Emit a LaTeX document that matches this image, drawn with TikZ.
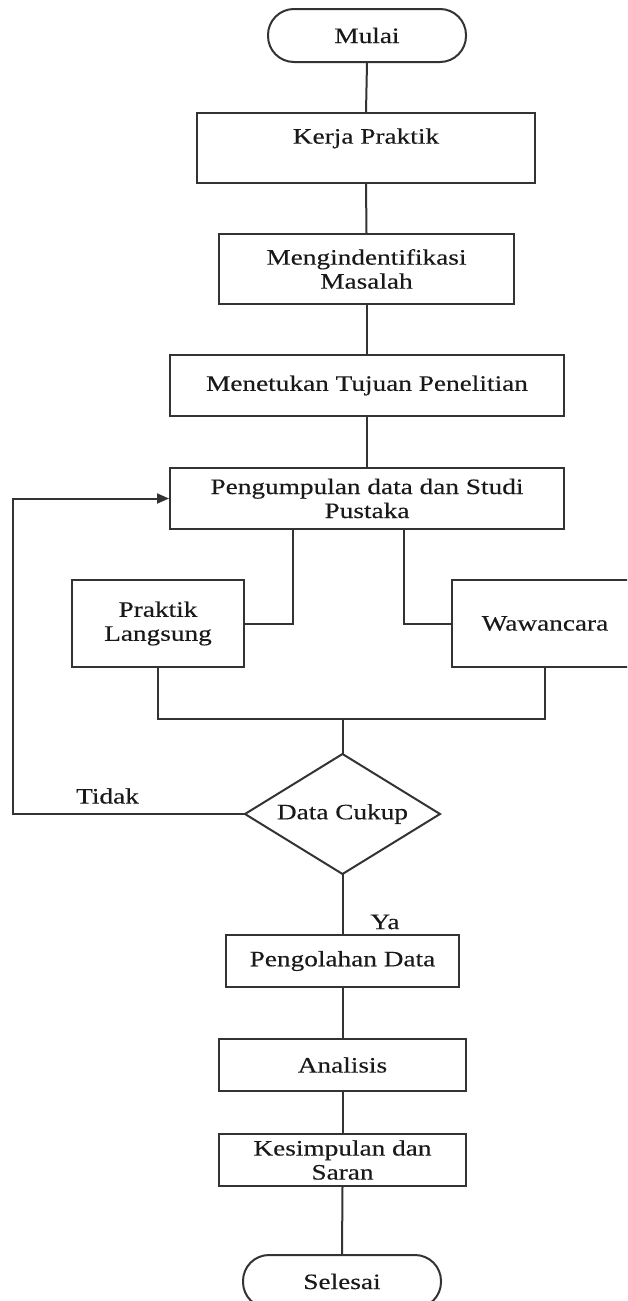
\documentclass[tikz,border=0pt]{standalone}
\usepackage{fontspec}
\setmainfont{Liberation Serif}[FakeStretch=1.24,FakeBold=0.3]
\usetikzlibrary{arrows.meta}
\begin{document}
\begin{tikzpicture}[x=1pt,y=-1pt,
  every node/.style={font=\fontsize{22}{24}\selectfont, text=black!90},
  line/.style={draw=black!80, line width=2pt},
  box/.style={line, rectangle, inner sep=0pt, align=center},
  term/.style={line, rectangle, rounded corners=26pt, minimum width=198pt, minimum height=53pt, inner sep=0pt},
  lbl/.style={inner sep=0pt}
]
\useasboundingbox (0,0) rectangle (627,1301);
\clip (0,0) rectangle (627,1301);

\node[term] (mulai) at (367,35.5) {Mulai};
\node[box, minimum width=338pt, minimum height=70pt] (kerja) at (366,148) {Kerja Praktik\\\mbox{}};
\node[box, minimum width=295pt, minimum height=70pt] (ident) at (366.5,269) {Mengindentifikasi\\Masalah};
\node[box, minimum width=394pt, minimum height=61pt] (tujuan) at (367,385.5) {Menetukan Tujuan Penelitian};
\node[box, minimum width=394pt, minimum height=61pt] (kumpul) at (367,498.5) {Pengumpulan data dan Studi\\Pustaka};
\node[box, minimum width=172pt, minimum height=87pt] (praktik) at (158,623.5) {Praktik\\Langsung};
\node[box, minimum width=186pt, minimum height=87pt] (wawan) at (545,623.5) {Wawancara};

% decision diamond
\coordinate (dN) at (342.5,754);
\coordinate (dE) at (440,814);
\coordinate (dS) at (342.5,874);
\coordinate (dW) at (245,814);
\draw[line, line join=miter] (dN) -- (dE) -- (dS) -- (dW) -- cycle;
\node[inner sep=0pt] (cukup) at (342.5,814) {Data Cukup};

\node[box, minimum width=233pt, minimum height=52pt] (olah) at (342.5,961) {Pengolahan Data};
\node[box, minimum width=247pt, minimum height=52pt] (analisis) at (342.5,1065) {Analisis};
\node[box, minimum width=247pt, minimum height=52pt] (simpul) at (342.5,1160) {Kesimpulan dan\\Saran};
\node[term] (selesai) at (342,1281.5) {Selesai};

\node[lbl] (tidak) at (107.5,796) {Tidak};
\node[lbl] (ya) at (385,922) {Ya};

\coordinate (xl) at (293,0);
\coordinate (xr) at (404,0);
\coordinate (jn) at (342.5,719);
\coordinate (fb) at (13,650);

\draw[line] (mulai.south) -- (kerja.north);
\draw[line] (kerja.south) -- (ident.north);
\draw[line] (ident.south) -- (tujuan.north -| ident.south);
\draw[line] (tujuan.south) -- (kumpul.north);
\draw[line] (kumpul.south -| xl) |- (praktik.east);
\draw[line] (kumpul.south -| xr) |- (wawan.west);
\draw[line] (praktik.south) |- (jn) -| (wawan.south);
\draw[line] (jn) -- (dN);
\draw[line, -{Triangle[length=12pt,width=10pt]}] (dW) -| (fb) |- (kumpul.west);
\draw[line] (dS) -- (olah.north);
\draw[line] (olah.south) -- (analisis.north);
\draw[line] (analisis.south) -- (simpul.north);
\draw[line] (simpul.south) -- (selesai.north);
\end{tikzpicture}
\end{document}
